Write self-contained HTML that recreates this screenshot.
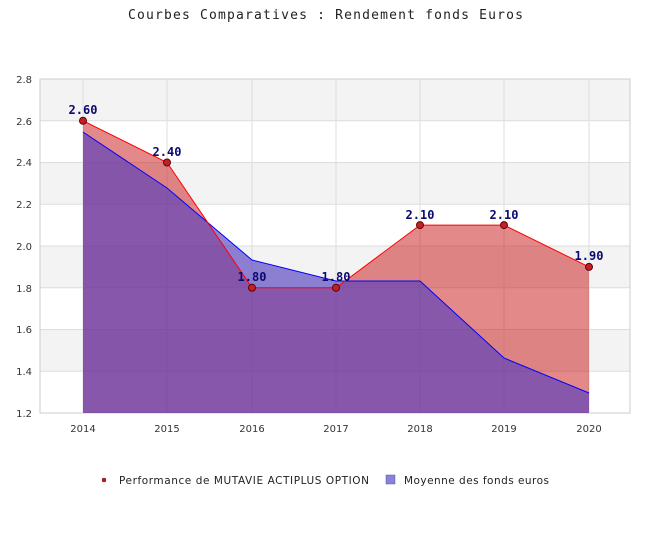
<!DOCTYPE html>
<html><head><style>body{margin:0;background:#fff}</style></head><body>
<svg width="650" height="550" xmlns="http://www.w3.org/2000/svg" font-family="DejaVu Sans, sans-serif">
<rect width="650" height="550" fill="#fff"/>
<text x="128" y="19" textLength="395" font-family="DejaVu Sans Mono, monospace" font-size="13" fill="#222">Courbes Comparatives : Rendement fonds Euros</text>
<g fill="#f3f3f3">
<rect x="40" y="79" width="590" height="41.75"/>
<rect x="40" y="162.5" width="590" height="41.75"/>
<rect x="40" y="246" width="590" height="41.75"/>
<rect x="40" y="329.5" width="590" height="41.75"/>
</g>
<g stroke="#ddd" stroke-width="1">
<line x1="40" y1="120.75" x2="630" y2="120.75"/><line x1="40" y1="162.5" x2="630" y2="162.5"/>
<line x1="40" y1="204.25" x2="630" y2="204.25"/><line x1="40" y1="246" x2="630" y2="246"/>
<line x1="40" y1="287.75" x2="630" y2="287.75"/><line x1="40" y1="329.5" x2="630" y2="329.5"/>
<line x1="40" y1="371.25" x2="630" y2="371.25"/>
<line x1="83" y1="79" x2="83" y2="413"/><line x1="167" y1="79" x2="167" y2="413"/>
<line x1="252" y1="79" x2="252" y2="413"/><line x1="336" y1="79" x2="336" y2="413"/>
<line x1="420" y1="79" x2="420" y2="413"/><line x1="504" y1="79" x2="504" y2="413"/>
<line x1="589" y1="79" x2="589" y2="413"/>
</g>
<rect x="40" y="79" width="590" height="334" fill="none" stroke="#ccc"/>
<polygon points="83,413 83,120.75 167,162.5 252,287.75 336,287.75 420,225.1 504,225.1 589,266.9 589,413" fill="rgba(200,20,20,0.5)"/>
<polygon points="83,413 83,132 167,188 252,260 336,281 420,281 504,358 589,393 589,413" fill="rgba(81,60,190,0.64)"/>
<polyline points="83,132 167,188 252,260 336,281 420,281 504,358 589,393" fill="none" stroke="#00f" stroke-width="1"/>
<polyline points="83,120.75 167,162.5 252,287.75 336,287.75 420,225.1 504,225.1 589,266.9" fill="none" stroke="#f00" stroke-width="1"/>
<g fill="#c0202a" stroke="#600" stroke-width="1">
<circle cx="83" cy="120.75" r="3.5"/><circle cx="167" cy="162.5" r="3.5"/><circle cx="252" cy="287.75" r="3.5"/>
<circle cx="336" cy="287.75" r="3.5"/><circle cx="420" cy="225.1" r="3.5"/><circle cx="504" cy="225.1" r="3.5"/>
<circle cx="589" cy="266.9" r="3.5"/>
</g>
<g font-family="DejaVu Sans Mono, monospace" font-weight="bold" font-size="12" fill="#0a0a70" text-anchor="middle">
<text x="83" y="114">2.60</text><text x="167" y="156">2.40</text><text x="252" y="281">1.80</text>
<text x="336" y="281">1.80</text><text x="420" y="219">2.10</text><text x="504" y="219">2.10</text><text x="589" y="260">1.90</text>
</g>
<g font-size="10" fill="#333" text-anchor="end">
<text x="32" y="83">2.8</text><text x="32" y="125">2.6</text><text x="32" y="166">2.4</text>
<text x="32" y="208">2.2</text><text x="32" y="250">2.0</text><text x="32" y="292">1.8</text>
<text x="32" y="333">1.6</text><text x="32" y="375">1.4</text><text x="32" y="417">1.2</text>
</g>
<g font-size="10" fill="#333" text-anchor="middle">
<text x="83" y="432">2014</text><text x="167" y="432">2015</text><text x="252" y="432">2016</text>
<text x="336" y="432">2017</text><text x="420" y="432">2018</text><text x="504" y="432">2019</text><text x="589" y="432">2020</text>
</g>
<circle cx="104" cy="480" r="2" fill="#c0202a" stroke="#600" stroke-width="0.5"/>
<text x="119" y="484" textLength="250" font-size="10.5" fill="#222">Performance de MUTAVIE ACTIPLUS OPTION</text>
<rect x="386" y="475" width="9" height="9" fill="#8a82d8" stroke="#55a" stroke-width="0.5"/>
<text x="404" y="484" textLength="145" font-size="10.5" fill="#222">Moyenne des fonds euros</text>
</svg>
</body></html>
